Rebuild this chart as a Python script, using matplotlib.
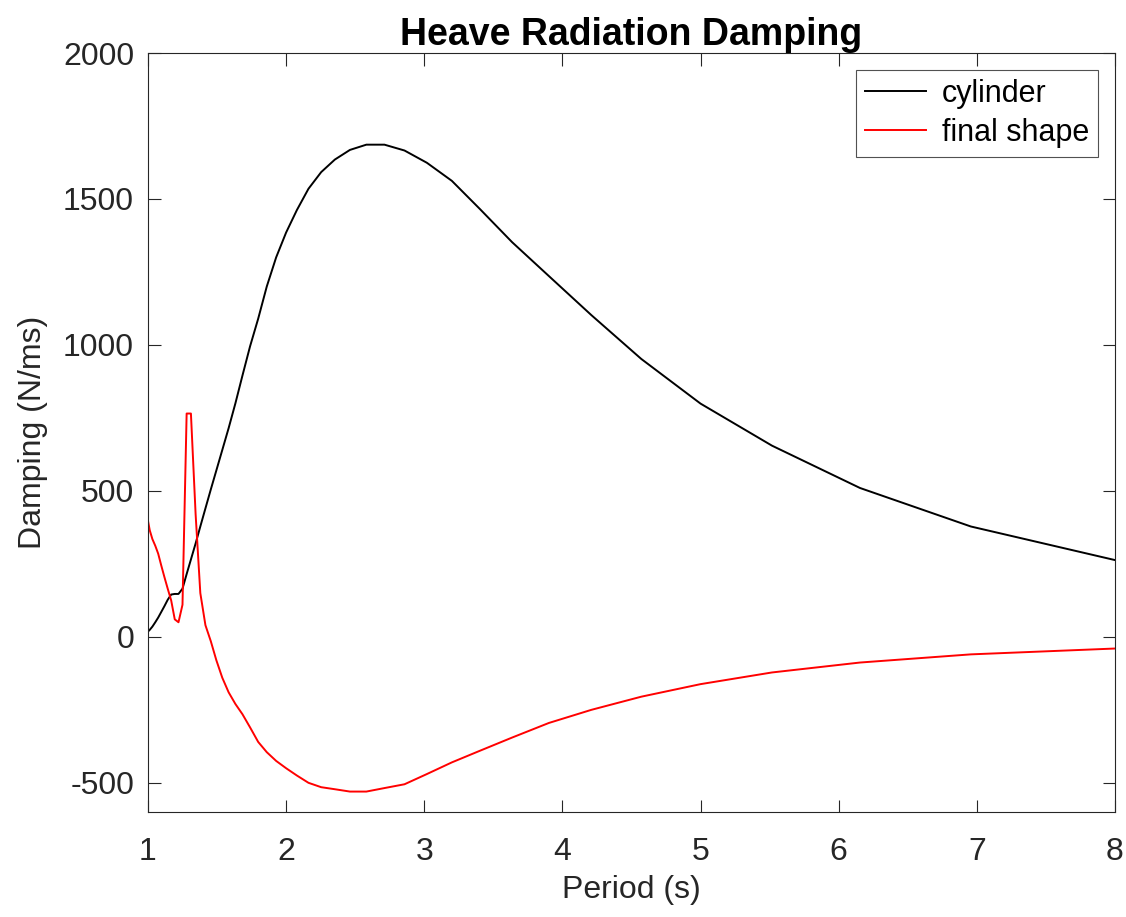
import numpy as np
import matplotlib
matplotlib.use("Agg")
import matplotlib.pyplot as plt
import matplotlib.ticker as ticker

## DATA ##
period = [1.0, 1.013, 1.032, 1.053, 1.074, 1.096, 1.119, 1.143, 1.168, 1.194,
          1.221, 1.25, 1.28, 1.311, 1.345, 1.379, 1.416, 1.455, 1.495, 1.538,
          1.584, 1.633, 1.684, 1.739, 1.798, 1.86, 1.928, 2.0, 2.078, 2.162,
          2.254, 2.353, 2.462, 2.581, 2.712, 2.857, 3.019, 3.2, 3.404, 3.636,
          3.902, 4.21, 4.571, 5.0, 5.517, 6.154, 6.957, 8.0]

cylinder = [18, 24, 35, 50, 66, 85, 105, 127, 145, 147,
            147, 165, 215, 265, 320, 378, 440, 505, 570, 640,
            715, 800, 895, 995, 1090, 1200, 1300, 1385, 1462, 1535,
            1592, 1635, 1668, 1686, 1686, 1666, 1624, 1562, 1465, 1352,
            1236, 1102, 952, 799, 655, 510, 378, 263]

final_shape = [398, 365, 335, 312, 285, 245, 205, 165, 125, 60,
               50, 110, 765, 765, 420, 150, 40, -15, -80, -140,
               -190, -230, -265, -310, -360, -395, -425, -450, -475, -500,
               -515, -522, -530, -530, -518, -505, -470, -430, -390, -345,
               -295, -250, -205, -162, -122, -88, -60, -40]

x_ticks = [1, 2, 3, 4, 5, 6, 7, 8]
y_ticks = [-500, 0, 500, 1000, 1500, 2000]

## STYLE ##
axis_color = '#262626'
plt.rcParams['font.family'] = ['Liberation Sans', 'DejaVu Sans']
plt.rcParams['axes.unicode_minus'] = False

fig = plt.figure(figsize=(11.26, 9.17), dpi=100, facecolor='white')
ax = fig.add_axes([0.1314, 0.1145, 0.8588, 0.8277])

ax.plot(period, cylinder, color='black', linewidth=1.4, label='cylinder')
ax.plot(period, final_shape, color='red', linewidth=1.4, label='final shape')

ax.set_xlim(1, 8)
ax.set_ylim(-600, 2000)
ax.xaxis.set_major_locator(ticker.FixedLocator(x_ticks))
ax.yaxis.set_major_locator(ticker.FixedLocator(y_ticks))

ax.tick_params(axis='both', which='both', direction='in', length=9, width=0.8,
               top=True, right=True, colors=axis_color, labelsize=23)
ax.tick_params(axis='x', pad=18)
ax.tick_params(axis='y', pad=10)
for spine in ax.spines.values():
    spine.set_color(axis_color)
    spine.set_linewidth(0.8)

ax.set_xlabel('Period (s)', fontsize=23, color=axis_color, labelpad=6)
ax.set_ylabel('Damping (N/ms)', fontsize=23, color=axis_color, labelpad=11)
ax.set_title('Heave Radiation Damping', fontsize=27, fontweight='bold', color='black', pad=6)

leg = ax.legend(loc='upper right', fontsize=22, frameon=True, fancybox=False,
                edgecolor=axis_color, handlelength=2.0, borderaxespad=0.55,
                handletextpad=0.5, borderpad=0.3, labelspacing=0.3)
leg.get_frame().set_linewidth(0.8)

fig.savefig('out.png', dpi=100, facecolor='white')
